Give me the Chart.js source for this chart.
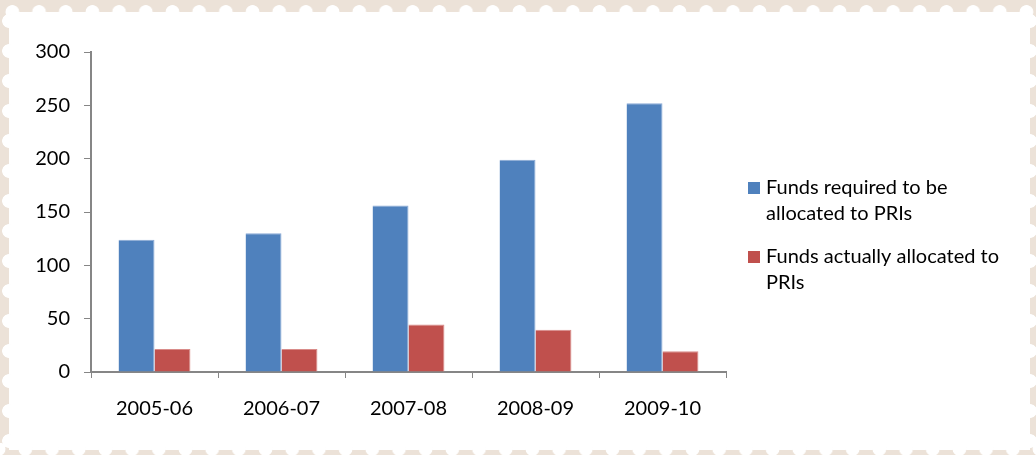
<!DOCTYPE html>
<html>
<head>
<meta charset="utf-8">
<script src="https://cdn.jsdelivr.net/npm/chart.js@4"></script>
<style>
  html, body { margin: 0; padding: 0; }
  body { width: 1036px; height: 455px; position: relative; overflow: hidden; background: #ece2d8; }
  /* papel blanco con borde tipo sello */
  .papel { position: absolute; left: 9px; top: 12px; right: 6px; bottom: 5px; background: #fff; }
  .borde { position: absolute; }
  .borde.arriba { left: 0; right: 0; top: 5px; height: 14px;
    background: radial-gradient(circle, #fff 6.5px, transparent 7.2px) -1px 0 / 26.7px 14px repeat-x; }
  .borde.abajo { left: 0; right: 0; bottom: 0; height: 12px;
    background: radial-gradient(circle, #fff 6.5px, transparent 7.2px) 12px 0 / 26.7px 12px repeat-x; }
  .borde.izq { top: 0; bottom: 0; left: 2px; width: 14px;
    background: radial-gradient(circle, #fff 6.5px, transparent 7.2px) 0 6px / 14px 30px repeat-y; }
  .borde.der { top: 0; bottom: 0; right: 0; width: 12px;
    background: radial-gradient(circle, #fff 6.5px, transparent 7.2px) 0 6px / 12px 30px repeat-y; }
  canvas { position: absolute; left: 0; top: 0; }
</style>
</head>
<body>
<div class="papel"></div>
<div class="borde arriba"></div>
<div class="borde abajo"></div>
<div class="borde izq"></div>
<div class="borde der"></div>
<canvas id="Grafico" width="1036" height="455"></canvas>
<script>
//Datos del gráfico
const categorias = ['2005-06', '2006-07', '2007-08', '2008-09', '2009-10'];
const requeridos = [124, 130, 156, 199, 252];
const asignados = [21.5, 21.5, 44.5, 39.5, 19.5];
const nombres = ['Funds required to be allocated to PRIs', 'Funds actually allocated to PRIs'];

const fuente = 'Lato, "Noto Sans", sans-serif';
const gris = '#868686';

//Leyenda propia (con texto partido en varias líneas)
const leyenda = {
  id: 'leyenda',
  afterDraw(chart) {
    const ctx = chart.ctx;
    const x = 748, ancho = 255, alto = 26;
    let y = 188;
    ctx.save();
    ctx.font = '20px ' + fuente;
    ctx.textBaseline = 'middle';
    chart.data.datasets.forEach(ds => {
      ctx.fillStyle = ds.backgroundColor;
      ctx.fillRect(x, y - 6, 12, 12);
      //partir el texto
      const palabras = ds.label.split(' ');
      const lineas = [];
      let linea = '';
      palabras.forEach(p => {
        const prueba = linea ? linea + ' ' + p : p;
        if (ctx.measureText(prueba).width > ancho && linea) {
          lineas.push(linea);
          linea = p;
        } else {
          linea = prueba;
        }
      });
      lineas.push(linea);
      ctx.fillStyle = '#000';
      lineas.forEach((l, i) => ctx.fillText(l, x + 18, y + i * alto));
      y += lineas.length * alto + 17;
    });
    ctx.restore();
  }
};

const contexto = document.getElementById('Grafico').getContext('2d');
const Grafico = new Chart(contexto, {
  type: 'bar',
  data: {
    labels: categorias,
    datasets: [{
      label: nombres[0],
      data: requeridos,
      backgroundColor: '#4F81BD',
      borderColor: '#8BAAD6',
      borderWidth: { top: 1, left: 0, right: 1, bottom: 0 },
      borderSkipped: 'bottom'
    }, {
      label: nombres[1],
      data: asignados,
      backgroundColor: '#C0504D',
      borderColor: '#D98C8A',
      borderWidth: { top: 1, left: 0, right: 1, bottom: 0 },
      borderSkipped: 'bottom'
    }]
  },
  options: {
    responsive: false,
    animation: false,
    layout: { padding: { top: 52, right: 310, left: 0, bottom: 0 } },
    datasets: {
      bar: { categoryPercentage: 0.566, barPercentage: 1 }
    },
    scales: {
      x: {
        grid: { display: true, drawOnChartArea: false, offset: true, color: gris, tickLength: 6 },
        border: { color: gris, width: 2 },
        ticks: { color: '#000', font: { family: fuente, size: 20 }, padding: 19, maxRotation: 0 },
        afterFit: s => { s.height = 83; }
      },
      y: {
        min: 0,
        max: 300,
        ticks: { stepSize: 50, color: '#000', font: { family: fuente, size: 20 }, padding: 14 },
        grid: { drawOnChartArea: false, color: gris, tickLength: 7 },
        border: { color: gris, width: 2 },
        afterFit: s => { s.width = 91; }
      }
    },
    plugins: {
      legend: { display: false },
      tooltip: { enabled: false }
    }
  },
  plugins: [leyenda]
});
</script>
</body>
</html>
